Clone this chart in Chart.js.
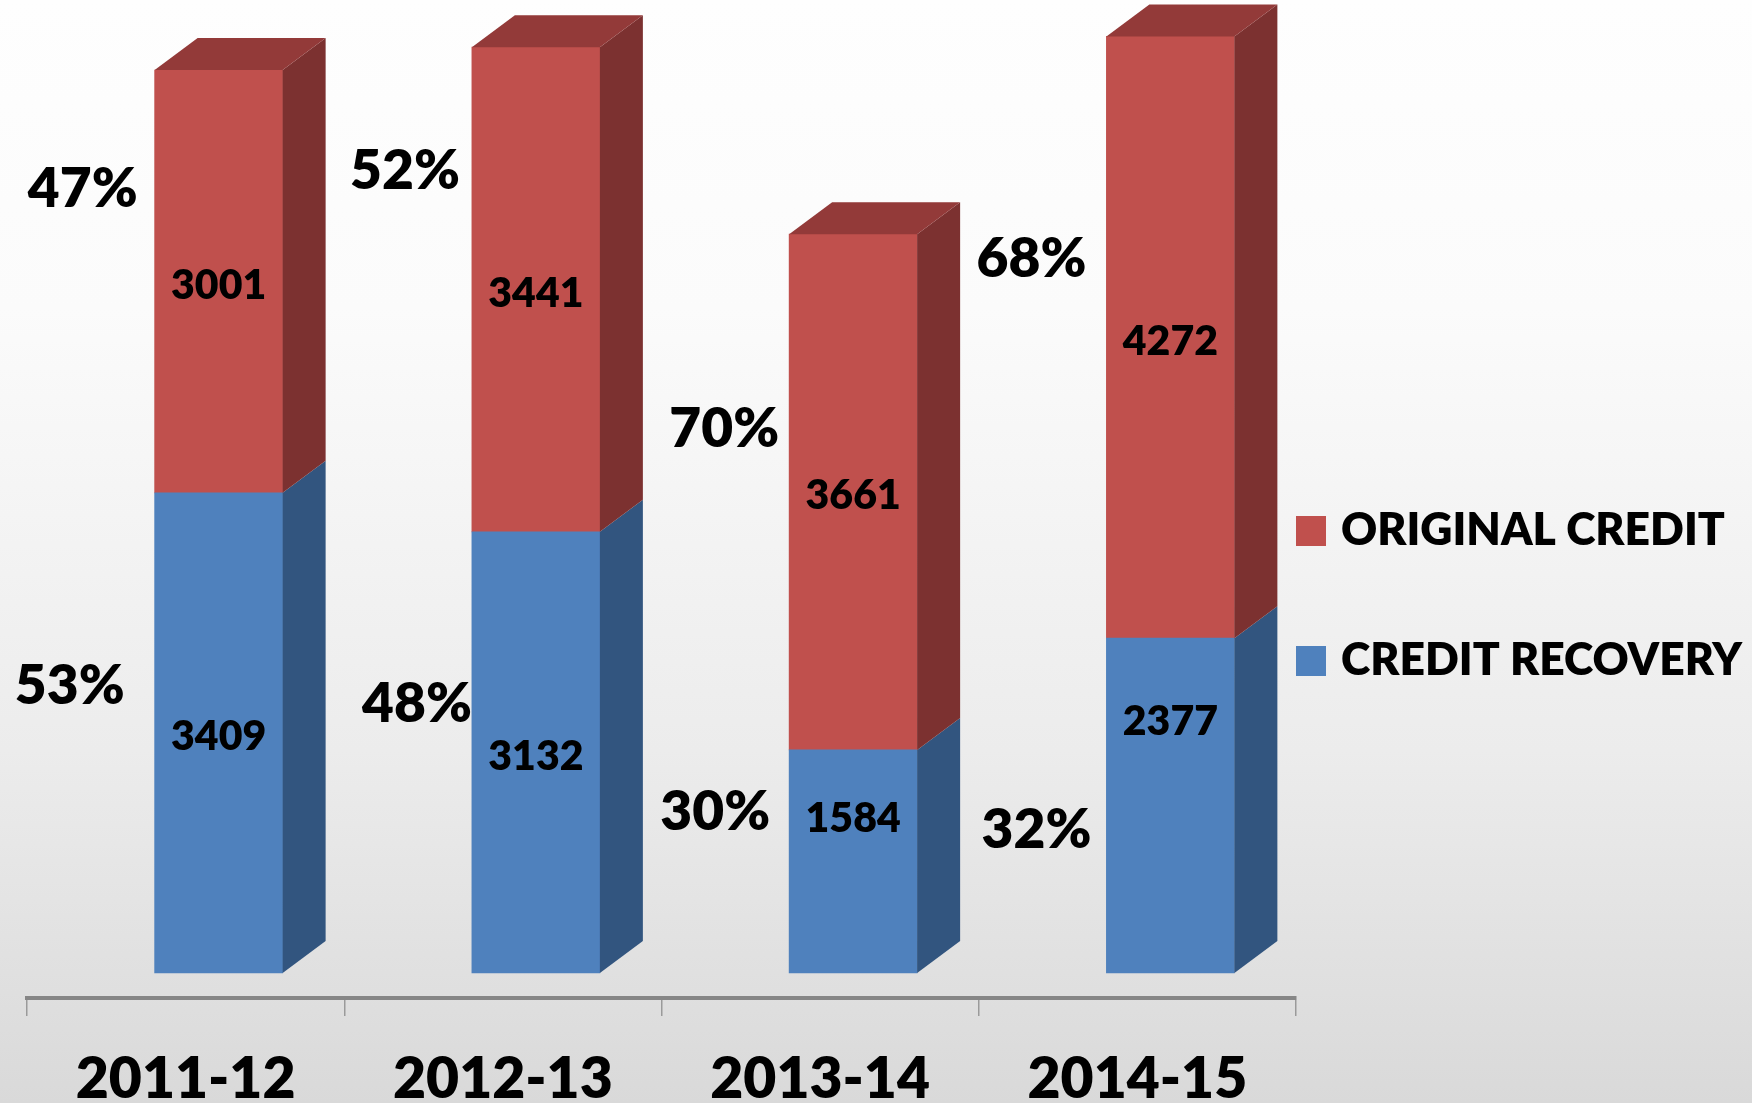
<!DOCTYPE html>
<html lang="en">

<head>
  <meta charset="UTF-8" />
  <title>Original Credit vs Credit Recovery</title>
  <script src="https://cdn.jsdelivr.net/npm/chart.js"></script>
  <style>
    * {
      margin: 0;
      padding: 0;
      box-sizing: border-box;
    }

    body {
      overflow: hidden;
      font-family: 'Lato', sans-serif;
    }

    .card {
      width: 1752px;
      height: 1103px;
      background: linear-gradient(to bottom, #fefefe 0%, #fbfbfb 28%, #ececec 68%, #d9d9d9 100%);
    }
  </style>
</head>

<body>

  <div class="card">
    <canvas id="creditChart"></canvas>
  </div>

  <script>
    // data
    const years = ['2011-12', '2012-13', '2013-14', '2014-15'];
    const creditRecovery = [3409, 3132, 1584, 2377];
    const originalCredit = [3001, 3441, 3661, 4272];
    const recoveryPct = [53, 48, 30, 32];
    const originalPct = [47, 52, 70, 68];

    // label placement (value units on the y scale, gaps in px left of the column)
    const recoveryPctAt = [2052, 1925, 1158, 1030];
    const originalPctAt = [5575, 5703, 3871, 5078];
    const recoveryPctGap = [30, 0, 19, 15];
    const originalPctGap = [17, 12, 10, 20];
    const recoveryValueAt = [null, null, 1094, 1783];   // null = middle of the segment

    const FONT = 'Lato';
    const WEIGHT = 800;

    const shift = { dx: 33, dy: -25 };   // bars stand back from the front axis
    const depth = { dx: 43, dy: -32 };   // 3d depth of each column

    function poly(ctx, pts) {
      ctx.beginPath();
      ctx.moveTo(pts[0][0], pts[0][1]);
      for (let i = 1; i < pts.length; i++) ctx.lineTo(pts[i][0], pts[i][1]);
      ctx.closePath();
      ctx.fill();
    }

    const bar3d = {
      id: 'bar3d',
      beforeDatasetsDraw(chart) {
        chart.ctx.save();
        chart.ctx.translate(shift.dx, shift.dy);
      },
      afterDatasetsDraw(chart) {
        const ctx = chart.ctx;
        const last = chart.data.datasets.length - 1;
        const yScale = chart.scales.y;

        chart.data.datasets.forEach((ds, di) => {
          chart.getDatasetMeta(di).data.forEach((bar, i) => {
            const { x, y, base, width } = bar.getProps(['x', 'y', 'base', 'width'], true);
            const l = x - width / 2, r = x + width / 2;

            ctx.fillStyle = ds.sideColor;
            poly(ctx, [[r, y], [r + depth.dx, y + depth.dy], [r + depth.dx, base + depth.dy], [r, base]]);

            if (di === last) {
              ctx.fillStyle = ds.topColor;
              poly(ctx, [[l, y], [l + depth.dx, y + depth.dy], [r + depth.dx, y + depth.dy], [r, y]]);
            }

            // value on the front face
            ctx.fillStyle = '#000';
            ctx.font = WEIGHT + ' 41px ' + FONT;
            ctx.textAlign = 'center';
            ctx.textBaseline = 'middle';
            const at = ds.valueAt && ds.valueAt[i] != null ? yScale.getPixelForValue(ds.valueAt[i]) : (y + base) / 2 + 4;
            ctx.fillText(ds.data[i], x, at);

            // share of the year, to the left of the column
            ctx.font = WEIGHT + ' 55px ' + FONT;
            ctx.textAlign = 'right';
            ctx.fillText(ds.pct[i] + '%', l - ds.pctGap[i], yScale.getPixelForValue(ds.pctAt[i]) + 2);
          });
        });
        ctx.restore();
      },
      afterDraw(chart) {
        const ctx = chart.ctx;
        const area = chart.chartArea;
        const items = chart.data.datasets.slice().reverse();
        ctx.save();
        ctx.font = WEIGHT + ' 44.5px ' + FONT;
        ctx.textAlign = 'left';
        ctx.textBaseline = 'middle';
        items.forEach((ds, k) => {
          const cy = 531 + k * 130;
          ctx.fillStyle = ds.backgroundColor;
          ctx.fillRect(area.right, cy - 15, 30, 30);
          ctx.fillStyle = '#000';
          ctx.fillText(ds.label, area.right + 45, cy);
        });
        ctx.restore();
      }
    };

    const ctx = document.getElementById('creditChart').getContext('2d');

    const creditChart = new Chart(ctx, {
      type: 'bar',
      data: {
        labels: years,
        datasets: [{
          label: 'CREDIT RECOVERY',
          data: creditRecovery,
          pct: recoveryPct,
          pctAt: recoveryPctAt,
          pctGap: recoveryPctGap,
          valueAt: recoveryValueAt,
          backgroundColor: '#4f81bd',
          sideColor: '#32557f',
          topColor: '#3e6796',
          barThickness: 128,
          clip: false
        }, {
          label: 'ORIGINAL CREDIT',
          data: originalCredit,
          pct: originalPct,
          pctAt: originalPctAt,
          pctGap: originalPctGap,
          backgroundColor: '#c0504d',
          sideColor: '#7c3130',
          topColor: '#933a39',
          barThickness: 128,
          clip: false
        }]
      },
      options: {
        responsive: true,
        maintainAspectRatio: false,
        animation: false,
        layout: {
          padding: { top: 12, left: 27, right: 456, bottom: 0 }
        },
        plugins: {
          legend: { display: false },
          tooltip: { enabled: false }
        },
        scales: {
          x: {
            stacked: true,
            offset: true,
            grid: {
              offset: true,
              drawOnChartArea: false,
              drawTicks: true,
              tickLength: 18,
              color: '#9a9a9a',
              lineWidth: 1.5
            },
            border: { display: true, color: '#868686', width: 4 },
            ticks: {
              color: '#000',
              font: { family: FONT, size: 57, weight: WEIGHT },
              padding: 29,
              maxRotation: 0
            },
            afterFit(scale) {
              scale.height = 105;
            }
          },
          y: {
            stacked: true,
            display: false,
            min: 0,
            max: 7000
          }
        }
      },
      plugins: [bar3d]
    });
  </script>

</body>

</html>
